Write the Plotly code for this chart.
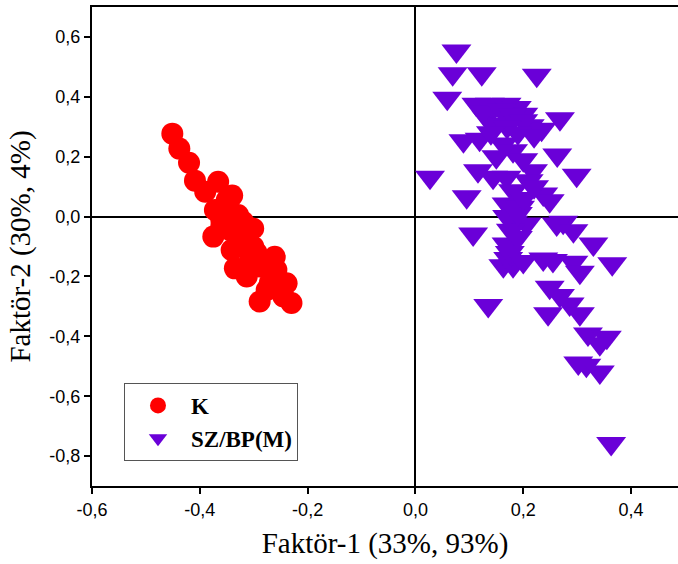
import plotly.graph_objects as go

# ---- data ----
k_x = [-0.451, -0.438, -0.420, -0.409, -0.366, -0.390, -0.350, -0.372, -0.329, -0.375,
       -0.301, -0.344, -0.323, -0.301, -0.335, -0.313, -0.261, -0.258, -0.239, -0.289,
       -0.230, -0.276, -0.307, -0.360, -0.341, -0.289, -0.320, -0.350, -0.245, -0.340,
       -0.315, -0.295, -0.275, -0.270, -0.360]
k_y = [0.277, 0.227, 0.180, 0.120, 0.116, 0.083, 0.055, 0.022, 0.005, -0.067,
       -0.040, -0.045, -0.089, -0.100, -0.173, -0.200, -0.134, -0.178, -0.223, -0.284,
       -0.289, -0.245, -0.145, -0.012, -0.112, -0.167, -0.017, 0.022, -0.267, 0.070,
       -0.060, -0.120, -0.160, -0.220, -0.030]

sz_x = [0.076, 0.069, 0.123, 0.225, 0.059, 0.027, 0.095, 0.268, 0.263, 0.299,
        0.113, 0.138, 0.169, 0.188, 0.200, 0.212, 0.234, 0.132, 0.150, 0.089,
        0.119, 0.163, 0.181, 0.116, 0.218, 0.144, 0.169, 0.237, 0.249, 0.181,
        0.169, 0.194, 0.274, 0.181, 0.206, 0.107, 0.262, 0.293, 0.330, 0.365,
        0.163, 0.181, 0.237, 0.255, 0.293, 0.305, 0.249, 0.268, 0.286, 0.305,
        0.135, 0.246, 0.320, 0.355, 0.342, 0.302, 0.317, 0.342, 0.363, 0.169,
        0.177, 0.170, 0.190, 0.172, 0.125, 0.160, 0.180, 0.200, 0.170, 0.190,
        0.220, 0.140, 0.150, 0.200, 0.210, 0.200, 0.220, 0.190, 0.175, 0.200]
sz_y = [0.553, 0.477, 0.477, 0.472, 0.395, 0.131, 0.066, 0.327, 0.206, 0.138,
        0.375, 0.375, 0.375, 0.364, 0.342, 0.303, 0.292, 0.331, 0.308, 0.253,
        0.258, 0.242, 0.220, 0.153, 0.153, 0.131, 0.131, 0.075, 0.053, 0.086,
        0.042, 0.031, -0.019, -0.019, -0.025, -0.058, -0.025, -0.047, -0.092, -0.158,
        -0.164, -0.164, -0.142, -0.147, -0.153, -0.186, -0.236, -0.264, -0.292, -0.325,
        -0.297, -0.325, -0.392, -0.403, -0.425, -0.489, -0.497, -0.519, -0.758, -0.092,
        -0.046, 0.000, 0.010, -0.140, 0.350, 0.355, 0.340, 0.320, 0.300, 0.280,
        0.270, 0.280, 0.200, 0.190, 0.120, 0.060, 0.100, -0.070, -0.120, -0.150]

x_ticks = [-0.6, -0.4, -0.2, 0.0, 0.2, 0.4]
x_labels = ["-0,6", "-0,4", "-0,2", "0,0", "0,2", "0,4"]
y_ticks = [-0.8, -0.6, -0.4, -0.2, 0.0, 0.2, 0.4, 0.6]
y_labels = ["-0,8", "-0,6", "-0,4", "-0,2", "0,0", "0,2", "0,4", "0,6"]

fig = go.Figure()
fig.add_trace(go.Scatter(x=k_x, y=k_y, mode="markers", name="K",
                         marker=dict(symbol="circle", size=22, color="#FF0000",
                                     line=dict(width=0))))
fig.add_trace(go.Scatter(x=sz_x, y=sz_y, mode="markers", name="SZ/BP(M)",
                         marker=dict(symbol="triangle-down", size=26, color="#6A00D8",
                                     line=dict(width=0))))

axis_common = dict(
    showgrid=False,
    zeroline=True, zerolinecolor="black", zerolinewidth=2,
    showline=True, linecolor="black", linewidth=2,
    ticks="outside", ticklen=6, tickwidth=2, tickcolor="black",
    tickfont=dict(family="Liberation Sans, Arial", size=18, color="black"),
)

fig.update_layout(
    width=678, height=564,
    margin=dict(l=92, r=0, t=7, b=78),
    paper_bgcolor="white", plot_bgcolor="white",
    xaxis=dict(range=[-0.6, 0.487], tickvals=x_ticks, ticktext=x_labels, mirror=True,
               title=dict(text="Faktör-1 (33%, 93%)", standoff=14,
                          font=dict(family="Liberation Serif, Times New Roman", size=29, color="black")),
               **axis_common),
    yaxis=dict(range=[-0.9, 0.7], tickvals=y_ticks, ticktext=y_labels,
               title=dict(text="Faktör-2 (30%, 4%)", standoff=10,
                          font=dict(family="Liberation Serif, Times New Roman", size=29, color="black")),
               **axis_common),
    legend=dict(x=0.0546, y=0.215, xanchor="left", yanchor="top",
                bgcolor="white", bordercolor="#555555", borderwidth=1,
                itemwidth=56, tracegroupgap=0,
                font=dict(family="Liberation Serif, Times New Roman", size=23, color="black",
                          weight="bold")),
    showlegend=True,
)

fig.write_html("out.html")
